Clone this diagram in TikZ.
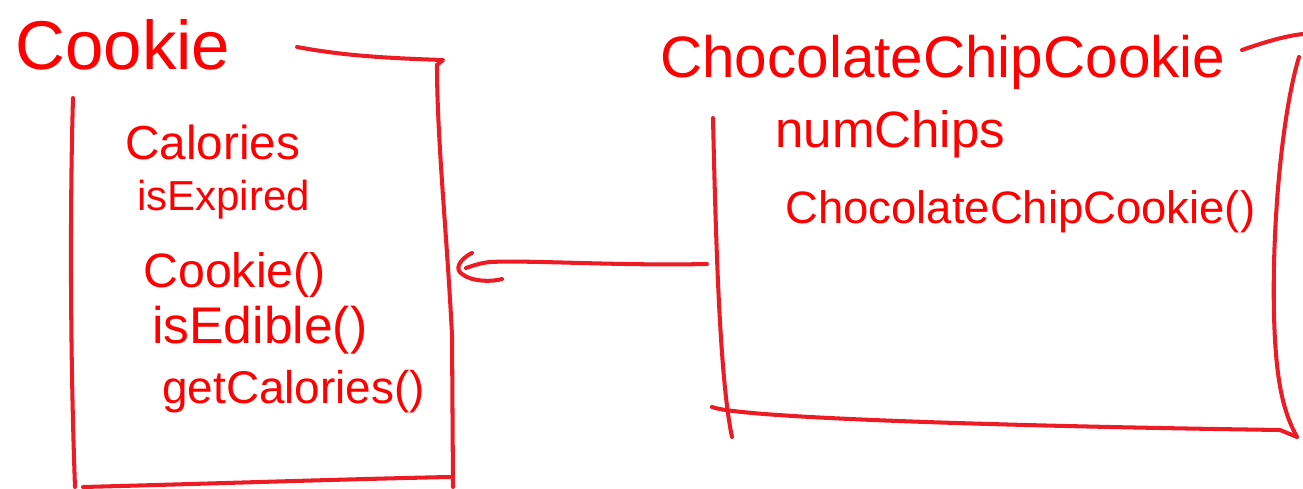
\documentclass[tikz,border=0pt]{standalone}
\usepackage{fontspec}
\setmainfont{Liberation Sans}
\definecolor{penred}{RGB}{237,28,36}
\definecolor{inkred}{RGB}{255,0,0}
\tikzset{
  pen/.style={draw=penred, line width=2.3pt, line cap=round, line join=round},
  hand/.style={text=inkred, inner sep=0pt, anchor=base west},
}
\newcommand{\hw}[2]{\resizebox{#1}{!}{#2}}
\begin{document}
\begin{tikzpicture}[x=0.02cm, y=-0.02cm]
\useasboundingbox (0,0) rectangle (1303,489);
% --- Cookie class ---
\node[hand] (cookieTitle) at (15,70) {\hw{4.3cm}{Cookie}};
\node[hand] (calories) at (125,160) {\hw{3.5cm}{Calories}};
\node[hand] (isExpired) at (137,211) {\hw{3.45cm}{isExpired}};
\node[hand] (cookieCtor) at (143,288) {\hw{3.65cm}{Cookie()}};
\node[hand] (isEdible) at (152,344) {\hw{4.3cm}{isEdible()}};
\node[hand] (getCalories) at (162,404) {\hw{5.25cm}{getCalories()}};
% box
\draw[pen] (297,47) .. controls (340,55) and (380,58) .. (443,60) -- (437,65);
\draw[pen] (437,65) .. controls (437,140) and (447,235) .. (452,335) -- (453,487);
\draw[pen] (83,487) .. controls (200,484) and (350,479) .. (450,477);
\draw[pen] (73,98) .. controls (70,200) and (70,350) .. (75,487);
% --- ChocolateChipCookie class ---
\node[hand] (ccTitle) at (660,78) {\hw{11.3cm}{ChocolateChipCookie}};
\node[hand] (numChips) at (775,148) {\hw{4.6cm}{numChips}};
\node[hand] (ccCtor) at (785,224) {\hw{9.4cm}{ChocolateChipCookie()}};
% box
\draw[pen] (1242,50) .. controls (1265,42) and (1285,36) .. (1303,34);
\draw[pen] (1299,57) .. controls (1280,120) and (1270,250) .. (1275,340) .. controls (1278,390) and (1285,415) .. (1297,437);
\draw[pen] (712,407) .. controls (740,418) and (1000,426) .. (1280,430) -- (1297,437);
\draw[pen] (713,118) .. controls (716,250) and (720,380) .. (732,437);
% --- generalization arrow ---
\coordinate (tail) at (707,264);
\coordinate (head) at (466,268);
\draw[pen] (tail) .. controls (620,266) and (530,260) .. (490,262) .. controls (480,263) and (472,266) .. (head);
\draw[pen] (472,253) .. controls (458,260) and (455,270) .. (462,274) .. controls (472,282) and (492,282) .. (502,279);
\end{tikzpicture}
\end{document}
